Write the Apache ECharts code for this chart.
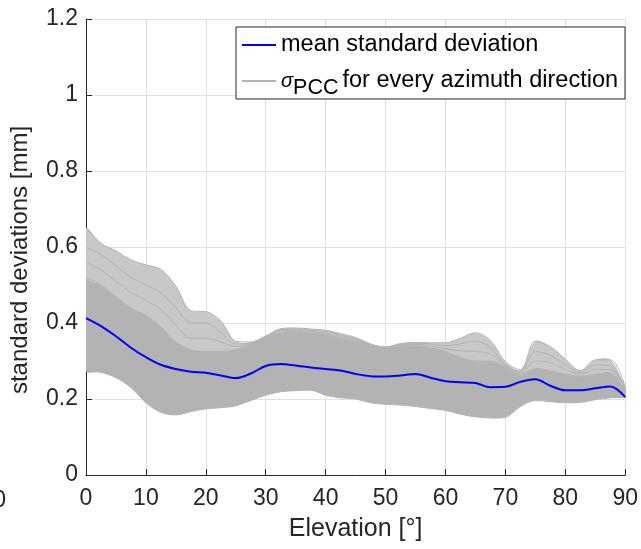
<!DOCTYPE html>
<html>
<head>
<meta charset="utf-8">
<script src="https://cdn.jsdelivr.net/npm/echarts@6/dist/echarts.min.js"></script>
<style>
html, body { margin: 0; padding: 0; background: #fff; }
#chart { width: 641px; height: 549px; }
</style>
</head>
<body>
<div id="chart"></div>
<script>
// elevation grid [deg]
const elevation = [0, 2.5, 5, 7.5, 10, 12.5, 15, 17.5, 20, 22.5, 25, 27.5, 30, 32.5, 35, 37.5, 40, 42.5, 45,
  47.5, 50, 52.5, 55, 57.5, 60, 62.5, 65, 67.5, 70, 72.5, 75, 77.5, 80, 82.5, 85, 87.5, 90];

// mean standard deviation [mm]
const meanStd = [0.413, 0.392, 0.365, 0.335, 0.31, 0.29, 0.279, 0.272, 0.269, 0.262, 0.255, 0.267, 0.287, 0.292,
  0.288, 0.283, 0.279, 0.275, 0.266, 0.26, 0.259, 0.262, 0.266, 0.256, 0.247, 0.244, 0.242, 0.231, 0.232, 0.245,
  0.252, 0.235, 0.223, 0.223, 0.228, 0.233, 0.205];

// sigma_PCC over all azimuths: lower edge, top of the dense part, two lines in the fan, upper edge
const sigmaLower = [0.275, 0.27, 0.256, 0.23, 0.19, 0.165, 0.158, 0.167, 0.174, 0.177, 0.182, 0.196, 0.21, 0.219,
  0.222, 0.223, 0.21, 0.203, 0.2, 0.19, 0.186, 0.184, 0.18, 0.175, 0.17, 0.16, 0.153, 0.15, 0.152, 0.18, 0.196,
  0.193, 0.19, 0.191, 0.198, 0.203, 0.205];
const sigmaCore = [0.52, 0.5, 0.47, 0.44, 0.42, 0.39, 0.35, 0.33, 0.325, 0.325, 0.33, 0.345, 0.36, 0.375, 0.378,
  0.375, 0.37, 0.36, 0.352, 0.342, 0.335, 0.34, 0.34, 0.335, 0.325, 0.31, 0.3, 0.3, 0.285, 0.265, 0.28, 0.275,
  0.265, 0.26, 0.265, 0.27, 0.23];
const sigmaFanB = [0.56, 0.54, 0.51, 0.48, 0.46, 0.435, 0.395, 0.36, 0.36, 0.35, 0.338, 0.346, 0.362, 0.379, 0.381,
  0.378, 0.374, 0.364, 0.355, 0.343, 0.336, 0.342, 0.344, 0.34, 0.332, 0.327, 0.325, 0.318, 0.288, 0.268, 0.3,
  0.295, 0.278, 0.265, 0.278, 0.278, 0.23];
const sigmaFanA = [0.6, 0.58, 0.55, 0.52, 0.5, 0.48, 0.44, 0.4, 0.4, 0.375, 0.345, 0.348, 0.364, 0.382, 0.384,
  0.381, 0.378, 0.368, 0.358, 0.343, 0.336, 0.344, 0.347, 0.345, 0.34, 0.345, 0.352, 0.335, 0.29, 0.272, 0.325,
  0.315, 0.29, 0.27, 0.29, 0.287, 0.231];
const sigmaUpper = [0.65, 0.61, 0.59, 0.566, 0.553, 0.541, 0.497, 0.432, 0.43, 0.405, 0.352, 0.35, 0.366, 0.385,
  0.387, 0.384, 0.381, 0.372, 0.362, 0.345, 0.337, 0.346, 0.349, 0.348, 0.348, 0.36, 0.374, 0.354, 0.298, 0.277,
  0.352, 0.338, 0.305, 0.275, 0.303, 0.303, 0.232];

const xTicks = [0, 90, 10];      // min, max, step
const yTicks = [0, 1.2, 0.2];

const gray = '#b3b3b3';
const axisColor = '#262626';
const font = 'Liberation Sans, Arial, Helvetica, sans-serif';
const sigmaName = 'sigma';
const meanName = 'mean standard deviation';
const smoothing = 0.35;

const pairs = (ys) => elevation.map((x, i) => [x, ys[i]]);

// band between two curves, placed with the axes' own coord()
function band(lower, upper, color) {
  return {
    type: 'custom', silent: true, clip: true, z: 1,
    data: [[elevation[0], lower[0]]],
    renderItem: (params, api) => {
      const top = elevation.map((x, i) => api.coord([x, upper[i]]));
      const bot = elevation.map((x, i) => api.coord([x, lower[i]])).reverse();
      return {
        type: 'polygon',
        shape: { points: top.concat(bot), smooth: smoothing },
        style: { fill: color, stroke: null }
      };
    }
  };
}

function grayLine(ys, name) {
  return {
    name: name, type: 'line', data: pairs(ys), smooth: smoothing, symbol: 'none', z: 2,
    itemStyle: { color: gray }, lineStyle: { color: gray, width: 1 }
  };
}

const option = {
  animation: false,
  grid: { left: 84, right: 5, top: 19, bottom: 74 },
  xAxis: {
    type: 'value', min: xTicks[0], max: xTicks[1], interval: xTicks[2],
    name: 'Elevation [°]', nameLocation: 'middle', nameGap: 42,
    nameTextStyle: { fontSize: 25, color: axisColor, fontFamily: font },
    axisLine: { lineStyle: { color: axisColor, width: 1 } },
    axisTick: { inside: true, length: 6, lineStyle: { color: axisColor } },
    axisLabel: { fontSize: 23, color: axisColor, fontFamily: font, margin: 12 },
    splitLine: { show: true, lineStyle: { color: '#e0e0e0', width: 1 } }
  },
  yAxis: {
    type: 'value', min: yTicks[0], max: yTicks[1], interval: yTicks[2],
    name: 'standard deviations [mm]', nameLocation: 'middle', nameGap: 54,
    nameTextStyle: { fontSize: 24, color: axisColor, fontFamily: font, padding: [0, 26, 0, 0] },
    axisLine: { show: true, lineStyle: { color: axisColor, width: 1 } },
    axisTick: { show: true, inside: true, length: 6, lineStyle: { color: axisColor } },
    axisLabel: { fontSize: 23, color: axisColor, fontFamily: font, margin: 8 },
    splitLine: { show: true, lineStyle: { color: '#e0e0e0', width: 1 } }
  },
  legend: {
    orient: 'vertical', left: 236, top: 27,
    backgroundColor: '#fff', borderColor: axisColor, borderWidth: 1,
    padding: [6, 7, 0, 6], itemGap: 12, itemWidth: 34, itemHeight: 2,
    icon: 'rect',
    textStyle: {
      fontSize: 23.5, color: '#000', fontFamily: font,
      rich: {
        s: { fontSize: 20, fontStyle: 'italic', fontFamily: font, color: '#000' },
        p: { fontSize: 21.5, fontFamily: font, color: '#000', padding: [14, 0, 0, 0] },
        t: { fontSize: 23.5, fontFamily: font, color: '#000', padding: [0, 0, 0, 4] }
      }
    },
    data: [meanName, sigmaName],
    formatter: (name) => name === sigmaName ? '{s|σ}{p|PCC}{t|for every azimuth direction}' : name
  },
  graphic: [
    // tail of the tick label of the neighbouring panel, cut by the figure edge
    { type: 'text', right: 635, top: 489, style: { text: '90', fontSize: 23, fill: axisColor, fontFamily: font } }
  ],
  series: [
    band(sigmaLower, sigmaCore, gray),
    band(sigmaCore, sigmaUpper, '#c8c8c8'),
    grayLine(sigmaLower),
    grayLine(sigmaCore),
    grayLine(sigmaFanB),
    grayLine(sigmaFanA),
    grayLine(sigmaUpper, sigmaName),
    {
      name: meanName, type: 'line', data: pairs(meanStd), smooth: smoothing, symbol: 'none', z: 5,
      itemStyle: { color: '#0000ff' }, lineStyle: { color: '#0000ff', width: 2 }
    }
  ]
};

const chart = echarts.init(document.getElementById('chart'));
chart.setOption(option);
</script>
</body>
</html>
